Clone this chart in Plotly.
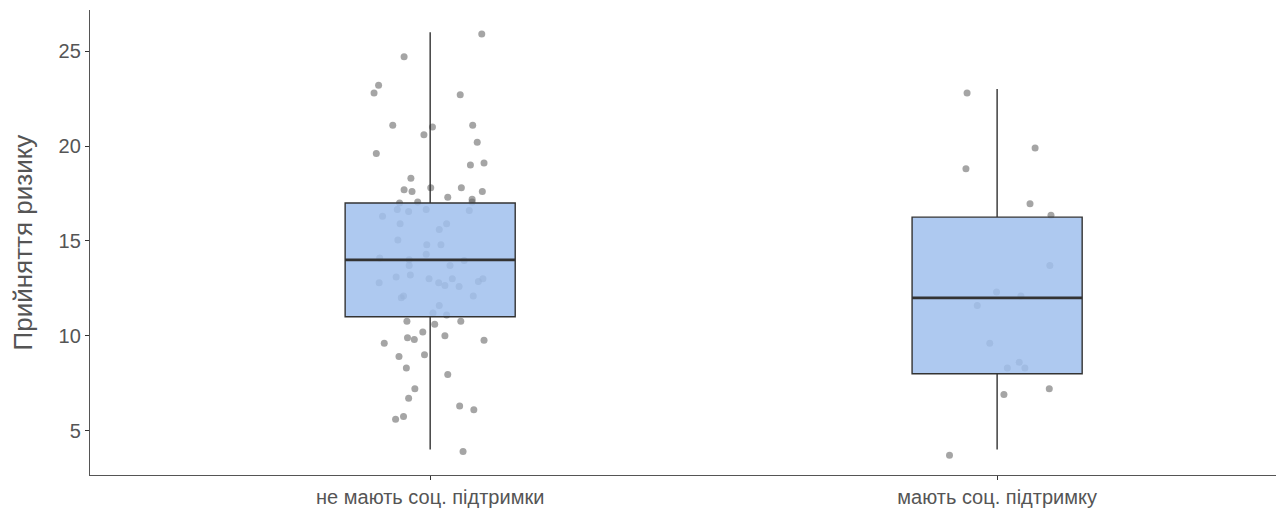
import plotly.graph_objects as go

categories = ["не мають соц. підтримки", "мають соц. підтримку"]
cat_pos = [1, 2]

# box statistics (per category)
lower_fence = [4, 4]
q1 = [11, 8]
median = [14, 12]
q3 = [17, 16.25]
upper_fence = [26, 23]

# jittered points (value, horizontal jitter in category units)
no_support_y = [25.9, 24.7, 23.2, 22.8, 22.7, 21.1, 21.0, 21.1, 20.6, 20.2,
                19.6, 19.1, 19.0, 18.3, 17.7, 17.6, 17.8, 17.8, 17.6, 17.3,
                17.2, 17.05, 17.05, 17.0, 16.3, 16.65, 16.55, 16.65, 16.6, 15.9,
                15.9, 15.6, 15.05, 14.8, 14.8, 14.3, 14.1, 14.0, 13.96, 13.7,
                13.7, 13.2, 13.1, 12.8, 13.0, 12.8, 12.65, 13.0, 12.6, 12.86,
                13.0, 12.0, 12.1, 12.1, 11.6, 11.2, 11.1, 10.76, 10.6, 10.76,
                10.2, 9.9, 9.8, 10.0, 9.6, 9.76, 8.9, 9.0, 8.3, 7.96,
                7.2, 6.7, 6.3, 6.1, 5.6, 5.75, 3.9]
no_support_jit = [0.091, -0.046, -0.091, -0.099, 0.053, -0.066, 0.004, 0.075, -0.011, 0.083,
                  -0.095, 0.095, 0.071, -0.034, -0.046, -0.032, 0.001, 0.055, 0.092, 0.031,
                  0.074, 0.074, -0.022, -0.054, -0.084, -0.058, -0.038, -0.007, 0.069, -0.053,
                  0.029, 0.016, -0.057, -0.006, 0.019, -0.007, -0.089, -0.037, 0.060, -0.037,
                  0.035, -0.035, -0.060, -0.090, -0.002, 0.015, 0.026, 0.039, 0.051, 0.085,
                  0.093, -0.051, -0.047, 0.076, 0.016, 0.005, 0.029, -0.041, 0.008, 0.054,
                  -0.013, -0.040, -0.028, 0.026, -0.081, 0.095, -0.055, -0.010, -0.042, 0.031,
                  -0.027, -0.038, 0.052, 0.077, -0.061, -0.047, 0.058]

support_y = [22.8, 19.9, 18.8, 16.96, 16.35, 13.7, 12.3, 12.1, 11.6, 9.6,
             8.6, 8.3, 8.3, 7.2, 6.9, 3.7]
support_jit = [-0.053, 0.067, -0.055, 0.058, 0.095, 0.093, -0.001, 0.042, -0.035, -0.013,
               0.039, 0.018, 0.049, 0.092, 0.012, -0.084]

y_ticks = [5, 10, 15, 20, 25]
y_title = "Прийняття ризику"

box_width = 0.3
x_range = [0.4, 2.506]
y_range = [2.66, 27.17]
font_family = "Liberation Sans, Arial, sans-serif"

fig = go.Figure()

# points first (bottom subplot layer)
point_groups = [(no_support_y, no_support_jit), (support_y, support_jit)]
for pos, (ys, jit) in zip(cat_pos, point_groups):
    fig.add_trace(go.Scatter(
        x=[pos + j for j in jit], y=ys, mode="markers",
        marker=dict(size=7, color="rgba(105,105,105,0.6)", line=dict(width=0)),
        showlegend=False, hoverinfo="skip", xaxis="x", yaxis="y"))

# boxes on an overlaying subplot so they are drawn above the points
for i, pos in enumerate(cat_pos):
    fig.add_trace(go.Box(
        x=[pos], q1=[q1[i]], median=[median[i]], q3=[q3[i]],
        lowerfence=[lower_fence[i]], upperfence=[upper_fence[i]],
        width=box_width, whiskerwidth=0, boxpoints=False,
        fillcolor="rgba(160,191,237,0.85)",
        line=dict(color="#333333", width=1.4),
        showlegend=False, hoverinfo="skip", xaxis="x2", yaxis="y2"))
    # thicker median line, as in the original
    fig.add_trace(go.Scatter(
        x=[pos - box_width / 2, pos + box_width / 2], y=[median[i], median[i]],
        mode="lines", line=dict(color="#333333", width=2.8),
        showlegend=False, hoverinfo="skip", xaxis="x2", yaxis="y2"))

tick_font = dict(size=20, color="#555555", family=font_family)

fig.update_layout(
    width=1276, height=507,
    margin=dict(l=82, r=0, t=1.5, b=39.5),
    paper_bgcolor="white", plot_bgcolor="white",
    font=dict(family=font_family, color="#555555", size=20),
    xaxis=dict(range=x_range, tickvals=cat_pos, ticktext=categories,
               showgrid=False, zeroline=False, showline=True,
               linecolor="#555555", linewidth=1.3,
               ticks="outside", ticklen=4, tickcolor="#333333", tickwidth=1.2,
               tickfont=tick_font, automargin=False),
    yaxis=dict(range=y_range, tickvals=y_ticks,
               showgrid=False, zeroline=False, showline=True,
               linecolor="#555555", linewidth=1.3,
               ticks="outside", ticklen=4, tickcolor="#333333", tickwidth=1.2,
               tickfont=tick_font, automargin=False),
    xaxis2=dict(range=x_range, overlaying="x", visible=False),
    yaxis2=dict(range=y_range, overlaying="y", visible=False),
    annotations=[dict(text=y_title, textangle=-90, showarrow=False,
                      xref="paper", yref="paper", x=0, y=0.5,
                      xanchor="center", yanchor="middle", xshift=-68,
                      font=dict(size=26, color="#555555", family=font_family))],
)

fig.write_html("out.html")
